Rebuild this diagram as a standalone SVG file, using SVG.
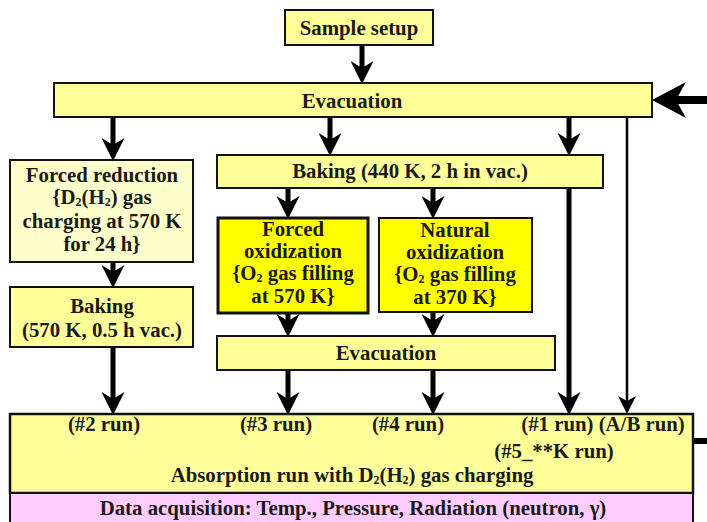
<svg xmlns="http://www.w3.org/2000/svg" width="707" height="522" viewBox="0 0 707 522">
<style>
.bx{stroke:#111;stroke-width:2}
.lt{fill:#FFFF99}
.pl{fill:#FFFFCC}
.yl{fill:#FFFF00}
.pk{fill:#FFCCFF}
text{font-family:"Liberation Serif","Times New Roman",serif;font-weight:bold;font-size:20.8px;fill:#1a1a1a;text-anchor:middle}
.sub{font-size:12px}
.thk{stroke:#000;stroke-width:5;fill:none}
.thn{stroke:#000;stroke-width:2.5;fill:none}
</style>
<defs>
<marker id="ah" markerUnits="userSpaceOnUse" viewBox="0 0 23 23" markerWidth="23" markerHeight="23" refX="10" refY="11.5" orient="auto">
<path d="M0,0 L23,11.5 L0,23 L7,11.5 Z" fill="#000"/>
</marker>
<marker id="ahs" markerUnits="userSpaceOnUse" viewBox="0 0 18 18" markerWidth="18" markerHeight="18" refX="8" refY="9" orient="auto">
<path d="M0,0 L18,9 L0,18 L5,9 Z" fill="#000"/>
</marker>
<marker id="ahb" markerUnits="userSpaceOnUse" viewBox="0 0 34 36" markerWidth="34" markerHeight="36" refX="14" refY="18" orient="auto">
<path d="M0,0 L34,18 L0,36 L10,18 Z" fill="#000"/>
</marker>
</defs>

<g id="connectors">
<line class="thk" x1="362" y1="45" x2="362" y2="71" marker-end="url(#ah)"/>
<line class="thk" x1="113" y1="117" x2="113" y2="148" marker-end="url(#ah)"/>
<line class="thk" x1="330" y1="117" x2="330" y2="143" marker-end="url(#ah)"/>
<line class="thk" x1="569" y1="117" x2="569" y2="143" marker-end="url(#ah)"/>
<line class="thk" x1="288" y1="188" x2="288" y2="206" marker-end="url(#ah)"/>
<line class="thk" x1="433" y1="188" x2="433" y2="206" marker-end="url(#ah)"/>
<line class="thk" x1="113" y1="262" x2="113" y2="275" marker-end="url(#ah)"/>
<line class="thk" x1="288" y1="313" x2="288" y2="324" marker-end="url(#ah)"/>
<line class="thk" x1="433" y1="313" x2="433" y2="324" marker-end="url(#ah)"/>
<line class="thk" x1="113" y1="347" x2="113" y2="402" marker-end="url(#ah)"/>
<line class="thk" x1="288" y1="370" x2="288" y2="402" marker-end="url(#ah)"/>
<line class="thk" x1="433" y1="370" x2="433" y2="402" marker-end="url(#ah)"/>
<line class="thk" x1="569" y1="188" x2="569" y2="402" marker-end="url(#ah)"/>
<line class="thn" x1="627" y1="117" x2="627" y2="404" marker-end="url(#ahs)"/>
<line x1="707" y1="100" x2="672" y2="100" stroke="#000" stroke-width="8" marker-end="url(#ahb)"/>
<line x1="693" y1="441" x2="707" y2="441" stroke="#000" stroke-width="6"/>
</g>

<g id="sample-setup">
<rect class="bx lt" x="285" y="10" width="148" height="35"/>
<text x="359" y="35">Sample setup</text>
</g>

<g id="evacuation-1">
<rect class="bx lt" x="54" y="83" width="598" height="34"/>
<text x="352" y="108">Evacuation</text>
</g>

<g id="forced-reduction">
<rect class="bx pl" x="10" y="160" width="183" height="102"/>
<text x="102" y="182">Forced reduction</text>
<text x="102" y="204">{D<tspan class="sub" dy="2">2</tspan><tspan dy="-2">(H</tspan><tspan class="sub" dy="2">2</tspan><tspan dy="-2">) gas</tspan></text>
<text x="102" y="228">charging at 570 K</text>
<text x="102" y="251">for 24 h}</text>
</g>

<g id="baking-440">
<rect class="bx lt" x="217" y="155" width="386" height="33"/>
<text x="410" y="178">Baking (440 K, 2 h in vac.)</text>
</g>

<g id="forced-oxidization">
<rect class="yl" x="218" y="218" width="150" height="95" stroke="#111" stroke-width="3"/>
<text x="293" y="236">Forced</text>
<text x="293" y="258">oxidization</text>
<text x="293" y="280">{O<tspan class="sub" dy="2">2</tspan><tspan dy="-2"> gas filling</tspan></text>
<text x="293" y="303">at 570 K}</text>
</g>

<g id="natural-oxidization">
<rect class="bx yl" x="379" y="218" width="153" height="94"/>
<text x="455" y="237">Natural</text>
<text x="455" y="259">oxidization</text>
<text x="455" y="281">{O<tspan class="sub" dy="2">2</tspan><tspan dy="-2"> gas filling</tspan></text>
<text x="455" y="304">at 370 K}</text>
</g>

<g id="baking-570">
<rect class="bx lt" x="10" y="287" width="183" height="60"/>
<text x="102" y="313">Baking</text>
<text x="102" y="337">(570 K, 0.5 h vac.)</text>
</g>

<g id="evacuation-2">
<rect class="bx lt" x="217" y="336" width="338" height="34"/>
<text x="386" y="360">Evacuation</text>
</g>

<g id="absorption-run">
<rect class="lt" x="10" y="414" width="683" height="79" stroke="#111" stroke-width="2.5"/>
<text x="104" y="431">(#2 run)</text>
<text x="276" y="431">(#3 run)</text>
<text x="408" y="431">(#4 run)</text>
<text x="603" y="431">(#1 run) (A/B run)</text>
<text x="554" y="458">(#5_**K run)</text>
<text x="352" y="482">Absorption run with D<tspan class="sub" dy="2">2</tspan><tspan dy="-2">(H</tspan><tspan class="sub" dy="2">2</tspan><tspan dy="-2">) gas charging</tspan></text>
</g>

<g id="data-acquisition">
<rect class="bx pk" x="10" y="493" width="683" height="32"/>
<text x="353" y="515">Data acquisition: Temp., Pressure, Radiation (neutron, γ)</text>
</g>
</svg>
